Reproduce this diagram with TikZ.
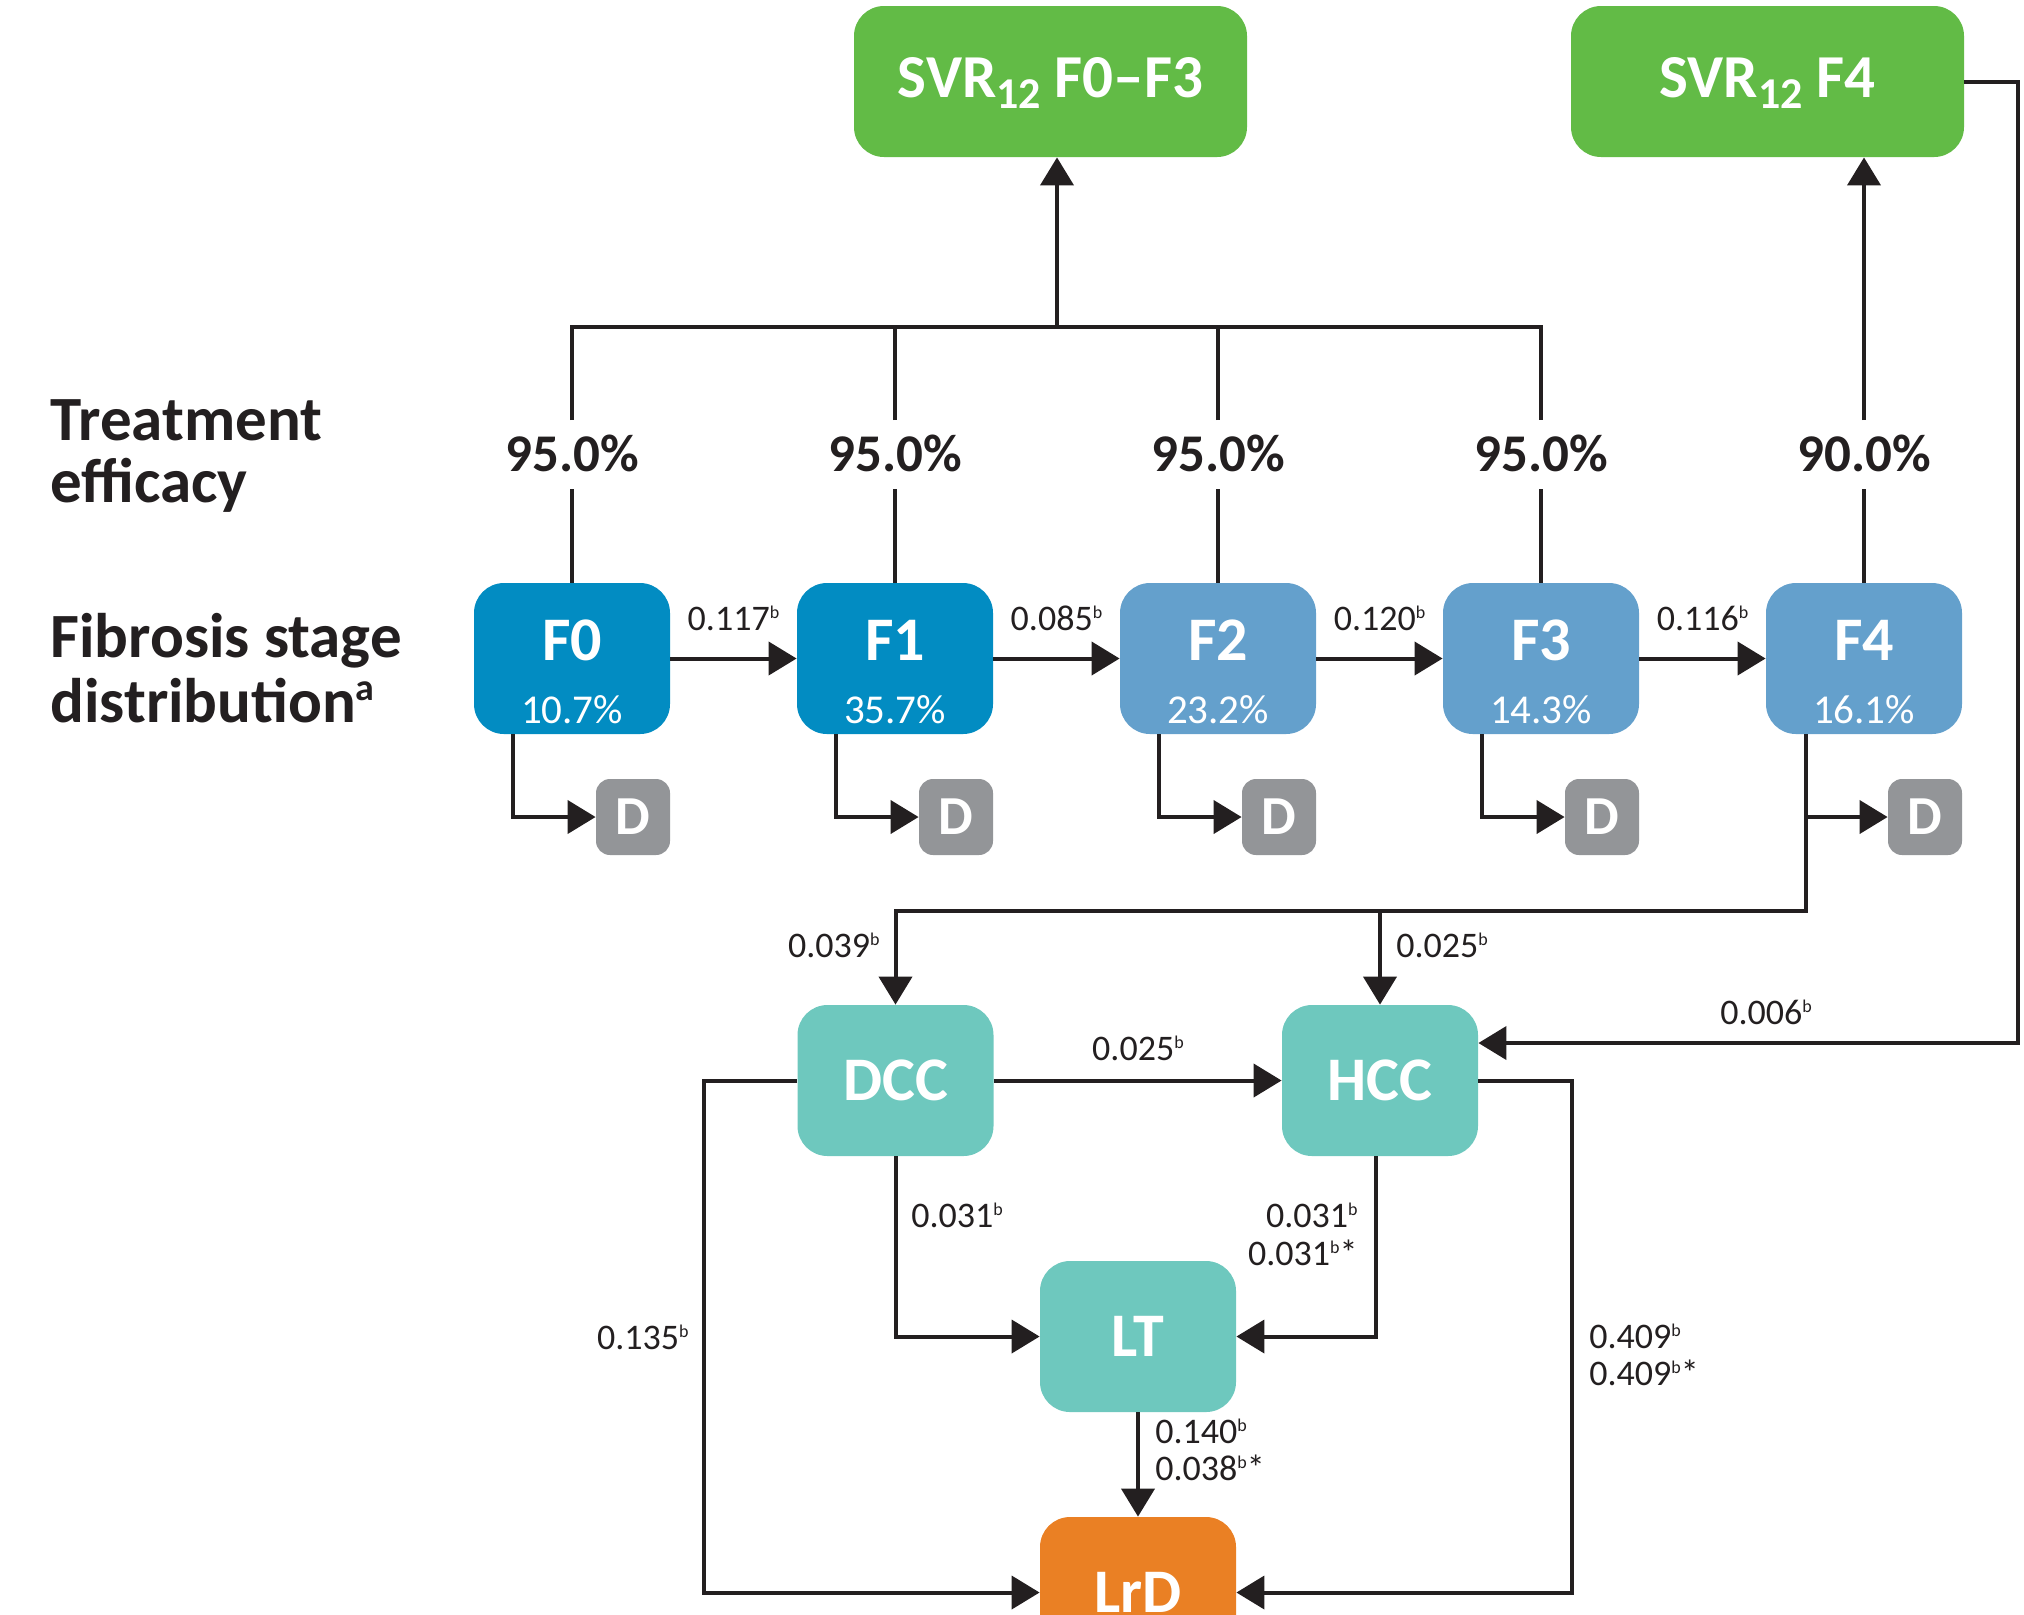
\documentclass[tikz,border=0pt]{standalone}
\usepackage{fontspec}
\setmainfont{Carlito}
\usetikzlibrary{arrows.meta}

\definecolor{ink}{HTML}{231F20}
\definecolor{svrgreen}{HTML}{62BB46}
\definecolor{fdark}{HTML}{028CC2}
\definecolor{flight}{HTML}{64A0CC}
\definecolor{dgray}{HTML}{939598}
\definecolor{teal}{HTML}{6EC8BE}
\definecolor{lrdorange}{HTML}{EA8024}

% superscript markers used in the transition labels
\newcommand\bsup{\raisebox{6pt}{\fontsize{9}{9}\selectfont b}}
\newcommand\asup{\raisebox{11pt}{\fontsize{19}{19}\selectfont\bfseries a}}

\begin{document}
\begin{tikzpicture}[x=0.5pt,y=-0.5pt,
  conn/.style={draw=ink, line width=2pt},
  arr/.style={conn, -{Triangle[length=14pt,width=16.5pt]}},
  bigbox/.style={rectangle, rounded corners=15pt, inner sep=0pt,
    minimum width=98pt, minimum height=75.5pt, text=white,
    font=\fontsize{31}{31}\selectfont\bfseries},
  svrbox/.style={bigbox, fill=svrgreen, minimum width=196.5pt},
  fbox/.style={bigbox},
  tealbox/.style={bigbox, fill=teal},
  dbox/.style={rectangle, rounded corners=7pt, inner sep=0pt, fill=dgray,
    minimum width=37pt, minimum height=38pt, text=white,
    font=\fontsize{27.5}{27.5}\selectfont\bfseries},
  ftitle/.style={anchor=base, inner sep=0pt, text=white,
    font=\fontsize{31}{31}\selectfont\bfseries},
  fpct/.style={anchor=base, inner sep=0pt, text=white,
    font=\fontsize{20.5}{20.5}\selectfont},
  eff/.style={anchor=base, inner sep=0pt, text=ink,
    font=\fontsize{26.5}{26.5}\selectfont\bfseries},
  side/.style={anchor=base west, inner sep=0pt, text=ink,
    font=\fontsize{31.5}{31.5}\selectfont\bfseries},
  rate/.style={anchor=base, inner sep=0pt, text=ink,
    font=\fontsize{18}{18}\selectfont},
]
\path[use as bounding box] (0,0) rectangle (2024,1614);
\clip (0,0) rectangle (2024,1614);

% SVR outcome boxes
\node[svrbox] (svrA) at (1050.5,81.5) {};
\node[anchor=base, inner sep=0pt, text=white, font=\fontsize{30.5}{30.5}\selectfont\bfseries]
  (svrAt) at (1050.5,97) {SVR\raisebox{-5.5pt}{\fontsize{22}{22}\selectfont 12} F0--F3};
\node[svrbox] (svrB) at (1767.5,81.5) {};
\node[anchor=base, inner sep=0pt, text=white, font=\fontsize{30.5}{30.5}\selectfont\bfseries]
  (svrBt) at (1767.5,97) {SVR\raisebox{-5.5pt}{\fontsize{22}{22}\selectfont 12} F4};

% row headings
\node[side] (h1) at (50,440) {Treatment};
\node[side] (h2) at (50,502) {efficacy};
\node[side] (h3) at (50,657) {Fibrosis stage};
\node[side] (h4) at (50,722) {distribution\asup};

% fibrosis stages, death boxes and efficacy values
\foreach \i/\x/\c/\p/\v in {0/572/fdark/10.7/95.0, 1/895/fdark/35.7/95.0,
    2/1218/flight/23.2/95.0, 3/1541/flight/14.3/95.0, 4/1864/flight/16.1/90.0} {
  \node[fbox, fill=\c] (F\i) at (\x,658.5) {};
  \node[ftitle] (FT\i) at (\x,660) {F\i};
  \node[fpct] (FP\i) at (\x,723) {\p\%};
  \node[dbox] (D\i) at (\x+61,817) {D};
  \node[eff] (E\i) at (\x,471) {\v\%};
  \coordinate (EL\i) at (\x,489);
  \coordinate (EH\i) at (\x,420);
  \draw[conn] (F\i.north) -- (EL\i);
}

% liver disease states
\node[tealbox] (DCC) at (895.5,1080.5) {DCC};
\node[tealbox] (HCC) at (1380,1080.5) {HCC};
\node[tealbox] (LT) at (1138,1336.5) {LT};
\node[bigbox, fill=lrdorange] (LrD) at (1138,1592.5) {LrD};

% treatment efficacy connectors
\coordinate (bus) at (1057,327);
\draw[conn] (EH0) -- (EH0 |- bus) -- (EH3 |- bus) -- (EH3);
\draw[conn] (EH1) -- (EH1 |- bus);
\draw[conn] (EH2) -- (EH2 |- bus);
\draw[arr] (bus) -- (bus |- svrA.south);
\draw[arr] (EH4) -- (EH4 |- svrB.south);

% fibrosis progression
\draw[arr] (F0.east) -- (F1.west);
\draw[arr] (F1.east) -- (F2.west);
\draw[arr] (F2.east) -- (F3.west);
\draw[arr] (F3.east) -- (F4.west);
\node[rate] (r01) at (733.5,630) {0.117\bsup};
\node[rate] (r12) at (1056.5,630) {0.085\bsup};
\node[rate] (r23) at (1379.5,630) {0.120\bsup};
\node[rate] (r34) at (1702.5,630) {0.116\bsup};

% background mortality
\foreach \i in {0,...,3} {
  \draw[arr] ([xshift=-29.5pt]F\i.south) |- (D\i.west);
}
\coordinate (tap) at (1806,911);
\draw[arr] ([xshift=-29pt]F4.south) -- (tap) -| (DCC.north);
\draw[arr] (tap -| HCC.north) -- (HCC.north);
\draw[arr] (tap |- D4.west) -- (D4.west);

% SVR F4 to HCC
\coordinate (rc) at (2018,1043);
\draw[arr] (svrB.east) -| (rc) -- (rc -| HCC.east);

% transitions between liver disease states
\draw[arr] (DCC.east) -- (HCC.west);
\coordinate (lc) at (704,1080.5);
\draw[arr] (DCC.west) -- (lc) |- (LrD.west);
\coordinate (rc2) at (1572,1080.5);
\draw[arr] (HCC.east) -- (rc2) |- (LrD.east);
\draw[arr] (DCC.south) |- (LT.west);
\draw[arr] ([xshift=-2pt]HCC.south) |- (LT.east);
\draw[arr] (LT.south) -- (LrD.north);

% transition probabilities
\node[rate, anchor=base east] (r39) at (880,957) {0.039\bsup};
\node[rate, anchor=base west] (r25a) at (1396,957) {0.025\bsup};
\node[rate] (r25b) at (1138,1060) {0.025\bsup};
\node[rate] (r006) at (1766,1024) {0.006\bsup};
\node[rate, anchor=base east] (r135) at (689,1349) {0.135\bsup};
\node[rate, anchor=base west] (r31a) at (911,1227) {0.031\bsup};
\node[rate, anchor=base east] (r31b) at (1358,1227) {0.031\bsup};
\node[rate, anchor=base east] (r31c) at (1358,1265) {0.031\bsup*};
\node[rate, anchor=base west] (r409a) at (1589,1348) {0.409\bsup};
\node[rate, anchor=base west] (r409b) at (1589,1385) {0.409\bsup*};
\node[rate, anchor=base west] (r140) at (1155,1443) {0.140\bsup};
\node[rate, anchor=base west] (r038) at (1155,1480) {0.038\bsup*};
\end{tikzpicture}
\end{document}
